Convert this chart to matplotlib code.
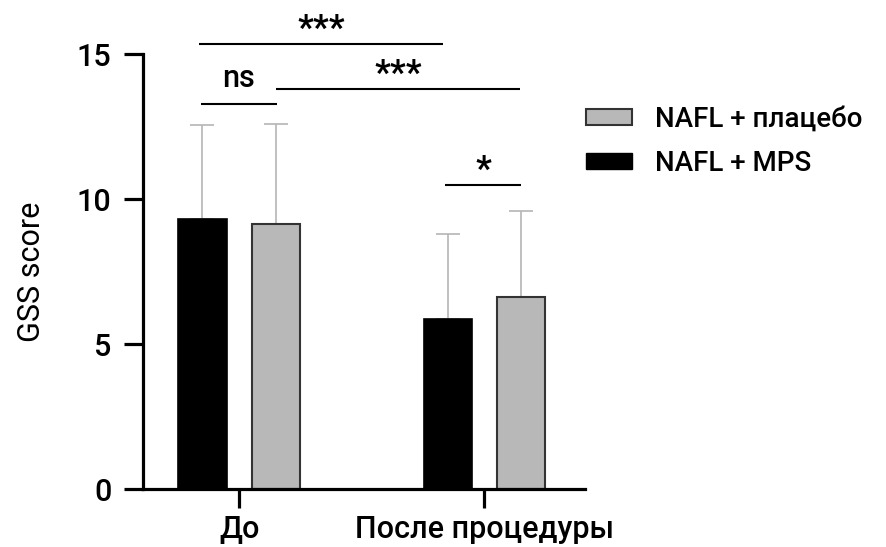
import matplotlib
matplotlib.use("Agg")
import matplotlib.pyplot as plt
from matplotlib.patches import Patch
import numpy as np

plt.rcParams['font.family'] = ['Roboto', 'DejaVu Sans']
plt.rcParams['font.weight'] = 500

categories = ["До", "После процедуры"]
mps_means = [9.32, 5.87]
mps_sd = [3.24, 2.92]
placebo_means = [9.15, 6.64]
placebo_sd = [3.45, 2.95]
series_labels = ["NAFL + плацебо", "NAFL + MPS"]
y_ticks = [0, 5, 10, 15]

# significance annotations: (x1, x2, y, text)
sig_brackets = [
    (-0.164, 0.830, 15.34, "***"),
    (-0.158, 0.154, 13.30, "ns"),
    (0.151, 1.145, 13.79, "***"),
    (0.840, 1.151, 10.48, "*"),
]

fig = plt.figure(figsize=(8.86, 5.47), dpi=100)
ax = fig.add_axes([142.7/886, (547-489.3)/547, (585-142.7)/886, (489.3-54.3)/547])

x = np.arange(len(categories))
w = 0.196
off = 0.15
gray = "#b8b8b8"
errc = "#b5b5b5"

ax.bar(x - off, mps_means, w, color="black", edgecolor="black", linewidth=1.2, zorder=2)
ax.bar(x + off, placebo_means, w, color=gray, edgecolor="#333333", linewidth=1.5, zorder=2)
ax.errorbar(x - off, mps_means, yerr=[np.zeros(2), mps_sd], fmt="none", ecolor=errc,
            elinewidth=1.2, capsize=8.6, capthick=1.2, zorder=1)
ax.errorbar(x + off, placebo_means, yerr=[np.zeros(2), placebo_sd], fmt="none", ecolor=errc,
            elinewidth=1.2, capsize=8.6, capthick=1.2, zorder=1)

ax.set_xlim(-0.394, 1.411)
ax.set_ylim(0, 15)
ax.set_yticks(y_ticks)
ax.set_xticks(x)
ax.set_xticklabels(categories)
for s in ["top", "right"]:
    ax.spines[s].set_visible(False)
for s in ["left", "bottom"]:
    ax.spines[s].set_linewidth(2.3)
ax.tick_params(axis="both", length=13.5, width=2.3, labelsize=22, direction="out")
ax.tick_params(axis="y", pad=9)
ax.tick_params(axis="x", pad=5)
ax.set_ylabel("GSS score", fontsize=22, labelpad=22)

for x1, x2, yy, t in sig_brackets:
    ax.plot([x1, x2], [yy, yy], color="black", lw=1.5, clip_on=False, solid_capstyle="butt")
    if t == "ns":
        ax.text((x1 + x2) / 2, yy + 0.35, t, ha="center", va="bottom", fontsize=22, clip_on=False)
    else:
        ax.text((x1 + x2) / 2, yy - 0.05, t, ha="center", va="bottom", fontsize=25,
                fontweight="bold", clip_on=False)

handles = [Patch(facecolor=gray, edgecolor="#333333", linewidth=1.5),
           Patch(facecolor="black", edgecolor="black")]
fig.legend(handles, series_labels, loc="upper left", bbox_to_anchor=(586/886, 1 - 106/547),
           frameon=False, fontsize=20, handlelength=1.65, handleheight=0.5,
           handletextpad=0.85, labelspacing=0.62, borderpad=0, borderaxespad=0)

fig.savefig("out.png", dpi=100)
